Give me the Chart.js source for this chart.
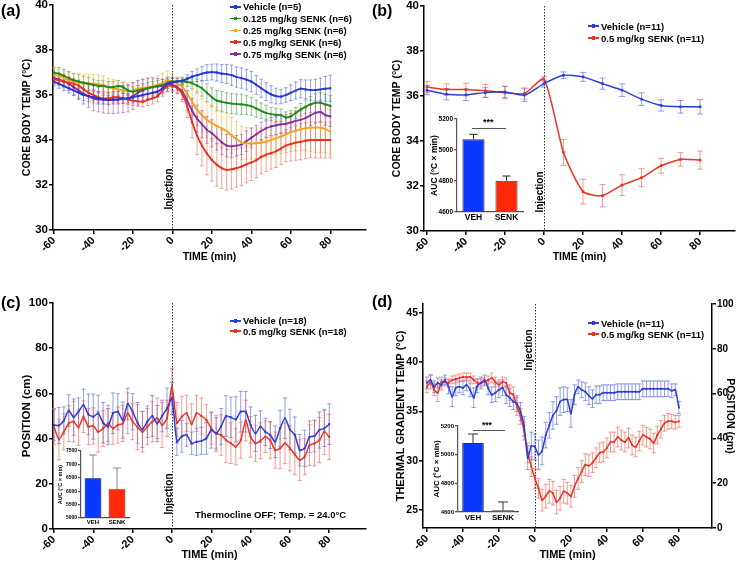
<!DOCTYPE html>
<html>
<head>
<meta charset="utf-8">
<script src="https://cdn.jsdelivr.net/npm/chart.js@4.4.0/dist/chart.umd.min.js"></script>
<style>
  body { margin: 0; background: #fff; }
  #fig { position: relative; width: 739px; height: 562px; overflow: hidden; font-family: 'Liberation Sans', Arial, sans-serif; color: #000; }
  .box { position: absolute; }
  .txt { position: absolute; font-weight: bold; white-space: nowrap; }
  .panel { font-size: 16px; line-height: 16px; }
  .rot { font-size: 10px; transform: translate(-50%, -50%) rotate(-90deg); }
  .leg { position: absolute; font-weight: bold; font-size: 9.5px; white-space: nowrap; }
  .leg div { display: flex; align-items: center; }
  .leg i { display: inline-block; position: relative; width: 11px; height: 1.6px; margin-right: 2px; }
  .leg i b { position: absolute; left: 3.7px; top: -1px; width: 3.6px; height: 3.6px; }
  .sig { position: absolute; height: 1px; background: #555; }
</style>
</head>
<body>
<div id="fig">
  <div class="box" style="left:0;top:0;width:370px;height:280px"><canvas id="ca"></canvas></div>
  <div class="box" style="left:370px;top:0;width:369px;height:280px"><canvas id="cb"></canvas></div>
  <div class="box" style="left:0;top:280px;width:370px;height:282px"><canvas id="cc"></canvas></div>
  <div class="box" style="left:370px;top:280px;width:369px;height:282px"><canvas id="cd"></canvas></div>
  <div class="box" style="left:420px;top:112px;width:105px;height:115px"><canvas id="ib"></canvas></div>
  <div class="box" style="left:45px;top:445px;width:86px;height:85px"><canvas id="ic"></canvas></div>
  <div class="box" style="left:420px;top:418px;width:100px;height:108px"><canvas id="id"></canvas></div>

  <div class="txt panel" style="left:1px;top:3px">(a)</div>
  <div class="txt panel" style="left:372px;top:3px">(b)</div>
  <div class="txt panel" style="left:1px;top:295px">(c)</div>
  <div class="txt panel" style="left:372px;top:294px">(d)</div>

  <div class="txt rot" style="left:168px;top:189px">Injection</div>
  <div class="txt rot" style="left:539px;top:192px">Injection</div>
  <div class="txt rot" style="left:168px;top:494px">Injection</div>
  <div class="txt rot" style="left:528px;top:350px">Injection</div>

  <div class="txt" style="left:195px;top:509px;font-size:9.5px">Thermocline OFF; Temp. = 24.0°C</div>

  <div class="sig" style="left:472px;top:128px;width:34px"></div>
  <div class="txt" style="left:483px;top:117px;font-size:9px">***</div>
  <div class="sig" style="left:473px;top:430px;width:32px"></div>
  <div class="txt" style="left:482px;top:420px;font-size:8.5px">***</div>
</div>

<script>
// ---- data ----
const xTicks = [-60, -40, -20, 0, 20, 40, 60, 80];

// (a) core body temp, sampled every 2.5 min
const timesA = Array.from({ length: 57 }, (_, i) => -60 + i * 2.5);
const seriesA = ['Vehicle (n=5)', '0.125 mg/kg SENK (n=6)', '0.25 mg/kg SENK (n=6)', '0.5 mg/kg SENK (n=6)', '0.75 mg/kg SENK (n=6)'];
const vehA = [36.6, 36.5, 36.4, 36.3, 36.2, 36.1, 36.0, 35.95, 35.9, 35.85, 35.8, 35.78, 35.8, 35.8, 35.85, 35.85, 35.9, 35.95, 36.0, 36.05, 36.1, 36.15, 36.3, 36.5,
  36.55,
  36.6, 36.64, 36.72, 36.82, 36.88, 36.95, 37.0, 37.02, 37.0, 36.95, 36.93, 36.88, 36.8, 36.75, 36.68, 36.6, 36.45, 36.3, 36.15, 36.03, 35.95, 35.93, 36.0, 36.1, 36.2, 36.28, 36.25, 36.22, 36.22, 36.25, 36.28, 36.3];
const vehAErr = [0.2, 0.2, 0.2, 0.22, 0.22, 0.25, 0.25, 0.25, 0.25, 0.25, 0.2, 0.2, 0.2, 0.2, 0.22, 0.22, 0.25, 0.25, 0.25, 0.25, 0.25, 0.25, 0.25, 0.2,
  0.2,
  0.15, 0.15, 0.18, 0.22, 0.28, 0.32, 0.35, 0.35, 0.38, 0.4, 0.42, 0.45, 0.45, 0.45, 0.45, 0.45, 0.42, 0.4, 0.4, 0.38, 0.35, 0.32, 0.32, 0.35, 0.38, 0.4, 0.42, 0.45, 0.48, 0.5, 0.55, 0.58];
const d0125 = [37.0, 36.95, 36.85, 36.75, 36.65, 36.6, 36.55, 36.5, 36.45, 36.4, 36.4, 36.35, 36.35, 36.4, 36.35, 36.2, 36.15, 36.2, 36.25, 36.3, 36.35, 36.4, 36.45, 36.55,
  36.6,
  36.6, 36.6, 36.58, 36.52, 36.42, 36.3, 36.1, 35.9, 35.75, 35.7, 35.65, 35.62, 35.6, 35.58, 35.55, 35.5, 35.4, 35.3, 35.2, 35.15, 35.12, 35.1, 35.0, 35.05, 35.2, 35.35, 35.48, 35.58, 35.65, 35.65, 35.58, 35.52];
const d0125Err = [0.25, 0.28, 0.3, 0.3, 0.3, 0.3, 0.28, 0.28, 0.25, 0.25, 0.25, 0.25, 0.25, 0.25, 0.22, 0.22, 0.22, 0.22, 0.25, 0.25, 0.25, 0.25, 0.25, 0.25,
  0.2,
  0.15, 0.15, 0.2, 0.25, 0.3, 0.35, 0.4, 0.42, 0.45, 0.45, 0.45, 0.45, 0.45, 0.45, 0.42, 0.4, 0.38, 0.35, 0.35, 0.3, 0.3, 0.28, 0.25, 0.25, 0.25, 0.28, 0.3, 0.35, 0.4, 0.45, 0.45, 0.45];
const d025 = [36.9, 36.85, 36.75, 36.65, 36.6, 36.55, 36.5, 36.5, 36.5, 36.48, 36.45, 36.35, 36.3, 36.25, 36.2, 36.18, 36.2, 36.28, 36.32, 36.35, 36.4, 36.45, 36.55, 36.65,
  36.6,
  36.5, 36.37, 36.05, 35.7, 35.35, 35.1, 34.9, 34.75, 34.62, 34.52, 34.4, 34.2, 34.05, 33.88, 33.85, 33.85, 33.85, 33.88, 33.92, 34.0, 34.08, 34.15, 34.25, 34.35, 34.4, 34.48, 34.52, 34.55, 34.55, 34.55, 34.48, 34.37];
const d025Err = [0.3, 0.3, 0.3, 0.35, 0.35, 0.4, 0.4, 0.42, 0.42, 0.42, 0.4, 0.4, 0.38, 0.38, 0.35, 0.35, 0.35, 0.35, 0.38, 0.4, 0.4, 0.4, 0.42, 0.42,
  0.35,
  0.3, 0.4, 0.5, 0.6, 0.7, 0.75, 0.8, 0.8, 0.8, 0.8, 0.8, 0.8, 0.78, 0.75, 0.7, 0.7, 0.68, 0.65, 0.65, 0.65, 0.7, 0.75, 0.8, 0.85, 0.9, 0.95, 1.0, 1.05, 1.1, 1.1, 1.05, 1.0];
const d05 = [36.7, 36.65, 36.6, 36.55, 36.5, 36.42, 36.25, 36.1, 36.0, 35.9, 35.85, 35.85, 35.9, 35.9, 35.85, 35.8, 35.75, 35.72, 35.7, 35.78, 35.85, 35.95, 36.2, 36.4,
  36.4,
  36.3, 36.05, 35.5, 34.8, 34.2, 33.75, 33.4, 33.12, 32.9, 32.75, 32.67, 32.7, 32.75, 32.82, 32.92, 33.0, 33.1, 33.25, 33.35, 33.42, 33.5, 33.62, 33.75, 33.82, 33.88, 33.92, 33.97, 34.0, 34.0, 34.0, 34.0, 34.0];
const d05Err = [0.2, 0.2, 0.22, 0.22, 0.22, 0.25, 0.25, 0.25, 0.25, 0.25, 0.25, 0.25, 0.25, 0.25, 0.22, 0.22, 0.22, 0.22, 0.22, 0.25, 0.25, 0.25, 0.25, 0.25,
  0.2,
  0.2, 0.35, 0.5, 0.7, 0.85, 0.9, 0.95, 0.95, 0.95, 0.9, 0.9, 0.88, 0.85, 0.85, 0.82, 0.8, 0.78, 0.75, 0.75, 0.72, 0.72, 0.7, 0.72, 0.75, 0.78, 0.8, 0.8, 0.8, 0.8, 0.8, 0.8, 0.8];
const d075 = [36.75, 36.7, 36.62, 36.5, 36.35, 36.2, 36.05, 35.95, 35.85, 35.8, 35.8, 35.78, 35.78, 35.8, 35.82, 35.85, 35.95, 36.1, 36.2, 36.3, 36.35, 36.38, 36.4, 36.45,
  36.45,
  36.35, 36.15, 35.75, 35.3, 34.95, 34.7, 34.45, 34.3, 34.1, 33.9, 33.75, 33.72, 33.75, 33.8, 33.95, 34.1, 34.25, 34.4, 34.52, 34.6, 34.65, 34.7, 34.72, 34.78, 34.85, 34.9, 34.98, 35.1, 35.2, 35.25, 35.1, 35.05];
const d075Err = [0.25, 0.25, 0.3, 0.3, 0.35, 0.4, 0.45, 0.5, 0.55, 0.55, 0.6, 0.6, 0.6, 0.6, 0.6, 0.6, 0.6, 0.55, 0.5, 0.45, 0.4, 0.35, 0.3, 0.3,
  0.3,
  0.3, 0.35, 0.45, 0.55, 0.6, 0.6, 0.6, 0.6, 0.55, 0.55, 0.5, 0.5, 0.45, 0.45, 0.45, 0.42, 0.4, 0.4, 0.4, 0.4, 0.4, 0.4, 0.4, 0.4, 0.42, 0.45, 0.45, 0.45, 0.45, 0.45, 0.45, 0.45];

// (b) core body temp, every 10 min
const timesB = [-60, -50, -40, -30, -20, -10, 0, 10, 20, 30, 40, 50, 60, 70, 80];
const seriesB = ['Vehicle (n=11)', '0.5 mg/kg SENK (n=11)'];
const vehB = [36.26, 36.08, 36.05, 36.15, 36.18, 36.04, 36.55, 36.92, 36.85, 36.55, 36.26, 35.86, 35.58, 35.52, 35.52];
const vehBErr = [0.2, 0.25, 0.25, 0.22, 0.25, 0.28, 0.15, 0.15, 0.2, 0.25, 0.28, 0.28, 0.25, 0.28, 0.32];
const senkB = [36.4, 36.29, 36.29, 36.23, 36.15, 36.11, 36.76, 33.49, 31.75, 31.57, 32.04, 32.37, 32.9, 33.18, 33.15];
const senkBErr = [0.25, 0.25, 0.28, 0.28, 0.28, 0.25, 0.1, 0.58, 0.55, 0.5, 0.46, 0.4, 0.33, 0.3, 0.4];

// (c) position, thermocline off
const timesC = Array.from({ length: 57 }, (_, i) => -60 + i * 2.5);
const seriesC = ['Vehicle (n=18)', '0.5 mg/kg SENK (n=18)'];
const vehC = [46, 45.8, 48, 52.4, 49.5, 52, 54.9, 50.7, 49.7, 51.2, 47, 45.3, 51.2, 51.9, 48.2, 55.3, 51.9, 47, 44.1, 47.5, 50, 46.7, 50, 53.4,
  57.8,
  38.6, 41, 41.6, 37.9, 38.6, 39, 40.1, 43.8, 42.3, 45.3, 50, 49.4, 48.5, 51.9, 51.9, 46, 42.3, 45.3, 43, 41.6, 38.6, 44.5, 49, 44, 41.6, 34.9, 35.7, 40.8, 41.1, 43.8, 44.5, 46.4];
const vehCErr = [7, 8, 6, 7, 8, 6, 7, 9, 10, 8, 9, 8, 9, 8, 8, 7, 8, 9, 8, 7, 9, 8, 7, 9,
  7,
  6, 7, 5, 5, 6, 6, 7, 8, 7, 8, 9, 9, 10, 9, 9, 8, 8, 7, 6, 6, 7, 8, 9, 9, 8, 7, 8, 7, 7, 8, 8, 9];
const senkC = [45.3, 39.6, 43, 46.7, 47.5, 45, 49.7, 45.3, 45.6, 43, 44.5, 46.7, 44.5, 46, 46.7, 51.2, 47.5, 45, 43, 45.3, 47.5, 49, 46, 49,
  63,
  47, 49.7, 51.2, 46.4, 51.2, 50, 48.2, 44.5, 42.3, 41.6, 39.3, 38, 36.4, 39.3, 48, 40.8, 37.9, 39, 40.8, 39.3, 34.9, 35.7, 37.9, 35.7, 33, 30.5, 32, 37.1, 37.9, 39.3, 43, 40.8];
const senkCErr = [8, 9, 8, 8, 9, 8, 7, 8, 8, 9, 8, 8, 7, 8, 8, 9, 8, 10, 9, 8, 9, 9, 10, 8,
  8,
  9, 9, 8, 9, 8, 8, 7, 7, 8, 9, 10, 9, 8, 8, 9, 9, 8, 8, 7, 8, 8, 9, 9, 10, 9, 9, 8, 9, 10, 10, 10, 10];

// (d) thermal gradient temp, every 2 min
const timesD = Array.from({ length: 71 }, (_, i) => -60 + i * 2);
const seriesD = ['Vehicle (n=11)', '0.5 mg/kg SENK (n=11)'];
const vehD = [37.9, 38.2, 37.5, 37.9, 37.7, 38.2, 37.5, 36.5, 37.4, 37.5, 37.4, 37.7, 37.2, 36.4, 37.6, 37.9, 38.2, 37.4, 36.7, 36.9,
  37.2, 37.4, 36.7, 36.4, 36.0, 35.8, 35.0, 33.5, 30.3, 31.5, 31.4,
  30.6, 31.0, 32.6, 33.6, 34.6, 35.1, 36.0, 36.2, 36.2, 34.8, 36.7, 37.5, 37.2, 37.0, 36.6, 36.3, 36.7, 36.7, 36.9, 36.9,
  36.9, 36.9, 37.0, 37.0, 37.0, 37.0, 37.0, 37.0, 37.0, 37.3, 37.3, 37.3, 37.3, 37.3, 37.3, 37.3, 37.3, 37.1, 37.2, 35.4];
const vehDErr = [0.6, 0.5, 0.6, 0.5, 0.5, 0.5, 0.7, 1.0, 0.8, 0.6, 0.7, 0.6, 0.7, 1.0, 0.7, 0.6, 0.5, 0.7, 0.8, 0.9,
  0.8, 0.8, 0.9, 0.9, 0.8, 0.8, 0.9, 1.0, 1.2, 1.4, 1.3,
  1.5, 1.4, 1.3, 1.3, 1.4, 1.4, 1.4, 1.3, 1.2, 1.4, 1.0, 0.7, 0.8, 0.9, 0.9, 0.9, 0.9, 0.9, 0.8, 0.8,
  0.8, 0.8, 0.8, 0.8, 0.8, 0.8, 0.8, 0.8, 0.8, 0.8, 0.8, 0.8, 0.8, 0.8, 0.8, 0.8, 0.8, 0.7, 0.6, 0.6];
const senkD = [37.5, 38.0, 37.2, 36.9, 38.0, 38.0, 37.9, 38.2, 38.3, 38.4, 38.5, 38.5, 38.5, 38.2, 37.9, 37.9, 38.0, 38.2, 38.4, 38.0,
  37.7, 38.0, 37.9, 36.9, 36.7, 35.5, 34.5, 33.0, 30.8, 29.4, 28.2,
  27.2, 26.0, 26.4, 26.9, 26.7, 25.8, 26.2, 26.9, 26.7, 26.4, 27.4, 28.2, 28.9, 29.6, 29.5, 29.8, 30.3, 30.8, 30.9, 31.3,
  31.9, 31.9, 32.4, 32.1, 31.9, 32.3, 31.6, 31.4, 32.0, 32.6, 32.4, 32.2, 31.8, 32.6, 33.2, 33.8, 34.0, 34.0, 33.9, 34.0];
const senkDErr = [0.6, 0.7, 0.6, 0.9, 0.5, 0.4, 0.4, 0.4, 0.4, 0.4, 0.4, 0.4, 0.4, 0.4, 0.4, 0.4, 0.4, 0.4, 0.5, 0.5,
  0.5, 0.5, 0.5, 0.8, 0.8, 0.9, 0.8, 0.9, 1.0, 1.0, 1.0,
  1.0, 1.1, 1.2, 1.2, 1.2, 1.2, 1.2, 1.2, 1.1, 1.1, 1.1, 1.1, 1.1, 1.1, 1.1, 1.0, 1.0, 1.0, 1.0, 1.0,
  1.0, 1.0, 1.0, 1.0, 1.0, 1.0, 1.0, 1.0, 1.0, 1.0, 1.0, 1.0, 1.0, 0.9, 0.9, 0.8, 0.8, 0.7, 0.7, 0.6];

// insets: area under curve
const aucLabels = ['VEH', 'SENK'];
const aucB = [5069, 4802];
const aucBErr = [32, 30];
const aucC = [6490, 6080];
const aucCErr = [860, 786];
const aucD = [5081, 4612];
const aucDErr = [63, 58];

// ---- styling ----
const FONT = "'Liberation Sans', Arial, sans-serif";
Chart.defaults.font.family = FONT;
Chart.defaults.color = '#000';

const BLUE = '#2a3fd6', BLUE_E = 'rgba(70,95,230,0.6)';
const RED = '#ec3323', RED_E = 'rgba(240,90,75,0.6)';
const colorsA = ['#2436d8', '#1b8a1b', '#f6a11e', '#e8301c', '#8b2c9c'];
const errColorsA = ['rgba(60,85,230,0.55)', 'rgba(50,150,50,0.55)', 'rgba(250,175,60,0.6)', 'rgba(240,85,70,0.55)', 'rgba(155,70,175,0.55)'];

function drawErr(chart, up) {
  const ctx = chart.ctx;
  chart.data.datasets.forEach((ds, i) => {
    if (!ds.err || !!ds.errUp !== up) return;
    const meta = chart.getDatasetMeta(i);
    const ys = chart.scales[meta.yAxisID];
    const cap = ds.errCap || 2;
    ctx.save();
    ctx.strokeStyle = ds.errColor;
    ctx.lineWidth = ds.errWidth || 1;
    ctx.beginPath();
    meta.data.forEach((el, j) => {
      const raw = ds.data[j];
      const v = typeof raw === 'object' ? raw.y : raw;
      const e = ds.err[j];
      if (e == null) return;
      const t = ys.getPixelForValue(v + e);
      const b = ys.getPixelForValue(up ? v : v - e);
      ctx.moveTo(el.x, t); ctx.lineTo(el.x, b);
      ctx.moveTo(el.x - cap, t); ctx.lineTo(el.x + cap, t);
      if (!up) { ctx.moveTo(el.x - cap, b); ctx.lineTo(el.x + cap, b); }
    });
    ctx.stroke();
    ctx.restore();
  });
}
const errorBars = {
  id: 'errorBars',
  beforeDatasetsDraw(chart) { drawErr(chart, false); },
  afterDatasetsDraw(chart) { drawErr(chart, true); }
};

// dotted line at the injection time
const injectionLine = {
  id: 'injectionLine',
  beforeDatasetsDraw(chart) {
    const { ctx, chartArea } = chart;
    const x = Math.round(chart.scales.x.getPixelForValue(0)) + 0.5;
    ctx.save();
    ctx.strokeStyle = '#333';
    ctx.lineWidth = 1;
    ctx.setLineDash([1.5, 1.5]);
    ctx.beginPath();
    ctx.moveTo(x, chartArea.top);
    ctx.lineTo(x, chartArea.bottom);
    ctx.stroke();
    ctx.restore();
  }
};

function noPad(s) { s.paddingTop = 0; s.paddingBottom = 0; s.paddingLeft = 0; s.paddingRight = 0; }

function pts(times, vals) { return vals.map((v, i) => ({ x: times[i], y: v })); }

function lineSet(label, times, vals, errs, color, errColor, o) {
  return {
    label, data: pts(times, vals), err: errs, errColor, errCap: o.cap,
    borderColor: color, backgroundColor: color, pointBackgroundColor: color,
    borderWidth: o.lw, pointRadius: o.r, pointStyle: 'rect', pointBorderWidth: 0, tension: 0.2
  };
}

function yAxis(o) {
  return {
    type: 'linear', position: o.pos || 'left', min: o.min, max: o.max,
    afterBuildTicks: s => { s.ticks = o.ticks.map(v => ({ value: v })); },
    afterFit: s => { s.width = o.w; noPad(s); },
    border: { color: o.color || '#000', width: o.bw || 1.5 },
    grid: { drawOnChartArea: false, color: o.color || '#000', lineWidth: o.bw || 1.5, tickLength: o.tl || 4 },
    ticks: { font: { size: o.tick, weight: 'bold' }, padding: 1, autoSkip: false, callback: v => String(v) },
    title: { display: true, text: o.title, font: { size: o.tsize, weight: 'bold' }, padding: { top: o.tpad, bottom: 0 } }
  };
}

function timeAxis(o) {
  return {
    type: 'linear', min: o.min, max: o.max,
    afterBuildTicks: s => { s.ticks = xTicks.map(v => ({ value: v })); },
    afterFit: s => { s.height = o.h; noPad(s); },
    border: { color: '#000', width: 1.5 },
    grid: { drawOnChartArea: false, color: '#000', lineWidth: 1.5, tickLength: 4 },
    ticks: { font: { size: o.tick, weight: 'bold' }, minRotation: 45, maxRotation: 45, autoSkip: false, padding: 0, callback: v => String(v) },
    title: { display: true, text: 'TIME (min)', font: { size: o.tsize, weight: 'bold' }, padding: { top: 0, bottom: o.tpad } }
  };
}

function mainChart(id, datasets, pad, scales) {
  return new Chart(document.getElementById(id), {
    type: 'line',
    data: { datasets },
    options: {
      responsive: true, maintainAspectRatio: false, animation: false,
      layout: { padding: pad },
      plugins: { legend: { display: false }, tooltip: { enabled: false } },
      scales
    },
    plugins: [errorBars, injectionLine]
  });
}

function insetChart(id, vals, errs, o) {
  return new Chart(document.getElementById(id), {
    type: 'bar',
    data: {
      labels: aucLabels,
      datasets: [{
        data: vals, err: errs, errUp: true, errColor: o.errColor, errCap: o.cap,
        backgroundColor: ['#0a38ff', '#ff2a0a'], borderColor: o.border, borderWidth: o.bwid,
        barPercentage: o.bp, categoryPercentage: 1
      }]
    },
    options: {
      responsive: true, maintainAspectRatio: false, animation: false,
      layout: { padding: o.pad },
      plugins: { legend: { display: false }, tooltip: { enabled: false } },
      scales: {
        x: {
          afterFit: s => { s.height = o.xh; noPad(s); },
          grid: { display: false, drawTicks: false, tickLength: 0 },
          border: { color: '#555', width: 1.2 },
          ticks: { font: { size: o.xfs, weight: 'bold' }, padding: o.xpad, maxRotation: 0, autoSkip: false }
        },
        y: yAxis({ min: o.min, max: o.max, ticks: o.ticks, w: o.w, tick: o.tfs, tsize: o.tsize, tpad: o.tpad,
          title: 'AUC (°C × min)', bw: 1.2, tl: 3, color: '#555' })
      }
    },
    plugins: [errorBars]
  });
}

function legend(left, top, rowH, names, colors, size) {
  const el = document.createElement('div');
  el.className = 'leg';
  el.style.left = left + 'px';
  el.style.top = top + 'px';
  if (size) el.style.fontSize = size + 'px';
  names.forEach((n, i) => {
    const row = document.createElement('div');
    row.style.height = rowH + 'px';
    row.innerHTML = '<i style="background:' + colors[i] + '"><b style="background:' + colors[i] + '"></b></i>' + n;
    el.appendChild(row);
  });
  document.getElementById('fig').appendChild(el);
}

// ---- (a) ----
const valsA = [vehA, d0125, d025, d05, d075];
const errsA = [vehAErr, d0125Err, d025Err, d05Err, d075Err];
mainChart('ca',
  valsA.map((v, i) => lineSet(seriesA[i], timesA, v, errsA[i], colorsA[i], errColorsA[i], { lw: 1.8, r: 1.4, cap: 1.8 })),
  { left: 0, top: 5, right: 2, bottom: 0 },
  {
    x: timeAxis({ min: -60.5, max: 98.1, h: 50, tick: 11, tsize: 10.5, tpad: 16.7 }),
    y: yAxis({ min: 30, max: 40, ticks: [30, 32, 34, 36, 38, 40], w: 53, tick: 11.5, tsize: 10.5, tpad: 20.7, title: 'CORE BODY TEMP (°C)' })
  });
legend(230, 1, 11.8, seriesA, colorsA);

// ---- (b) ----
mainChart('cb',
  [lineSet(seriesB[0], timesB, vehB, vehBErr, BLUE, BLUE_E, { lw: 1.5, r: 1.8, cap: 3 }),
   lineSet(seriesB[1], timesB, senkB, senkBErr, RED, RED_E, { lw: 1.5, r: 1.8, cap: 3 })],
  { left: 0, top: 6, right: 2, bottom: 0 },
  {
    x: timeAxis({ min: -61.5, max: 97.9, h: 49, tick: 11, tsize: 10.5, tpad: 16.7 }),
    y: yAxis({ min: 30, max: 40, ticks: [30, 32, 34, 36, 38, 40], w: 54, tick: 11.5, tsize: 10.5, tpad: 20.7, title: 'CORE BODY TEMP (°C)' })
  });
legend(588, 20, 12, seriesB, [BLUE, RED]);

// ---- (c) ----
mainChart('cc',
  [lineSet(seriesC[0], timesC, vehC, vehCErr, BLUE, BLUE_E, { lw: 1.5, r: 1.4, cap: 2 }),
   lineSet(seriesC[1], timesC, senkC, senkCErr, RED, RED_E, { lw: 1.5, r: 1.4, cap: 2 })],
  { left: 0, top: 23, right: 2, bottom: 0 },
  {
    x: timeAxis({ min: -60.5, max: 98.7, h: 33, tick: 11, tsize: 11, tpad: 0 }),
    y: yAxis({ min: 0, max: 100, ticks: [0, 20, 40, 60, 80, 100], w: 53, tick: 11.5, tsize: 11.5, tpad: 20, title: 'POSITION (cm)' })
  });
legend(230, 315.5, 10.5, seriesC, [BLUE, RED]);

// ---- (d) ----
mainChart('cd',
  [lineSet(seriesD[0], timesD, vehD, vehDErr, BLUE, BLUE_E, { lw: 1.5, r: 1.3, cap: 2.2 }),
   lineSet(seriesD[1], timesD, senkD, senkDErr, RED, RED_E, { lw: 1.5, r: 1.3, cap: 2.2 })],
  { left: 0, top: 24, right: 0, bottom: 0 },
  {
    x: timeAxis({ min: -62.2, max: 98.4, h: 34, tick: 11, tsize: 11, tpad: 0.4 }),
    y: yAxis({ min: 23.17, max: 45.91, ticks: [25, 30, 35, 40, 45], w: 53, tick: 10.5, tsize: 11, tpad: 24.4, title: 'THERMAL GRADIENT TEMP (°C)' }),
    y2: yAxis({ pos: 'right', min: 0, max: 100, ticks: [0, 20, 40, 60, 80, 100], w: 27, tick: 10, tsize: 10.5, tpad: 2.4, title: 'POSITION (cm)' })
  });
legend(588, 317.5, 11, seriesD, [BLUE, RED]);

// ---- insets ----
insetChart('ib', aucB, aucBErr, {
  pad: { left: 0, top: 7, right: 2, bottom: 0 }, w: 37, xh: 15, min: 4600, max: 5200, ticks: [4600, 4800, 5000, 5200],
  tfs: 6.5, tsize: 8.5, tpad: 9.9, xfs: 8.5, xpad: 1, bp: 0.67, errColor: '#222', cap: 4, border: '#333', bwid: 1
});
insetChart('ic', aucC, aucCErr, {
  pad: { left: 0, top: 6, right: 2, bottom: 0 }, w: 36, xh: 12, min: 5000, max: 7500, ticks: [5000, 5500, 6000, 6500, 7000, 7500],
  tfs: 5, tsize: 5.5, tpad: 11.7, xfs: 6, xpad: 1, bp: 0.7, errColor: '#888', cap: 4, border: '#333', bwid: 0.5
});
insetChart('id', aucD, aucDErr, {
  pad: { left: 0, top: 8, right: 2, bottom: 0 }, w: 38, xh: 14, min: 4600, max: 5200, ticks: [4600, 4800, 5000, 5200],
  tfs: 6, tsize: 8, tpad: 12.2, xfs: 8, xpad: 1, bp: 0.72, errColor: '#333', cap: 5, border: '#333', bwid: 1
});
</script>
</body>
</html>
